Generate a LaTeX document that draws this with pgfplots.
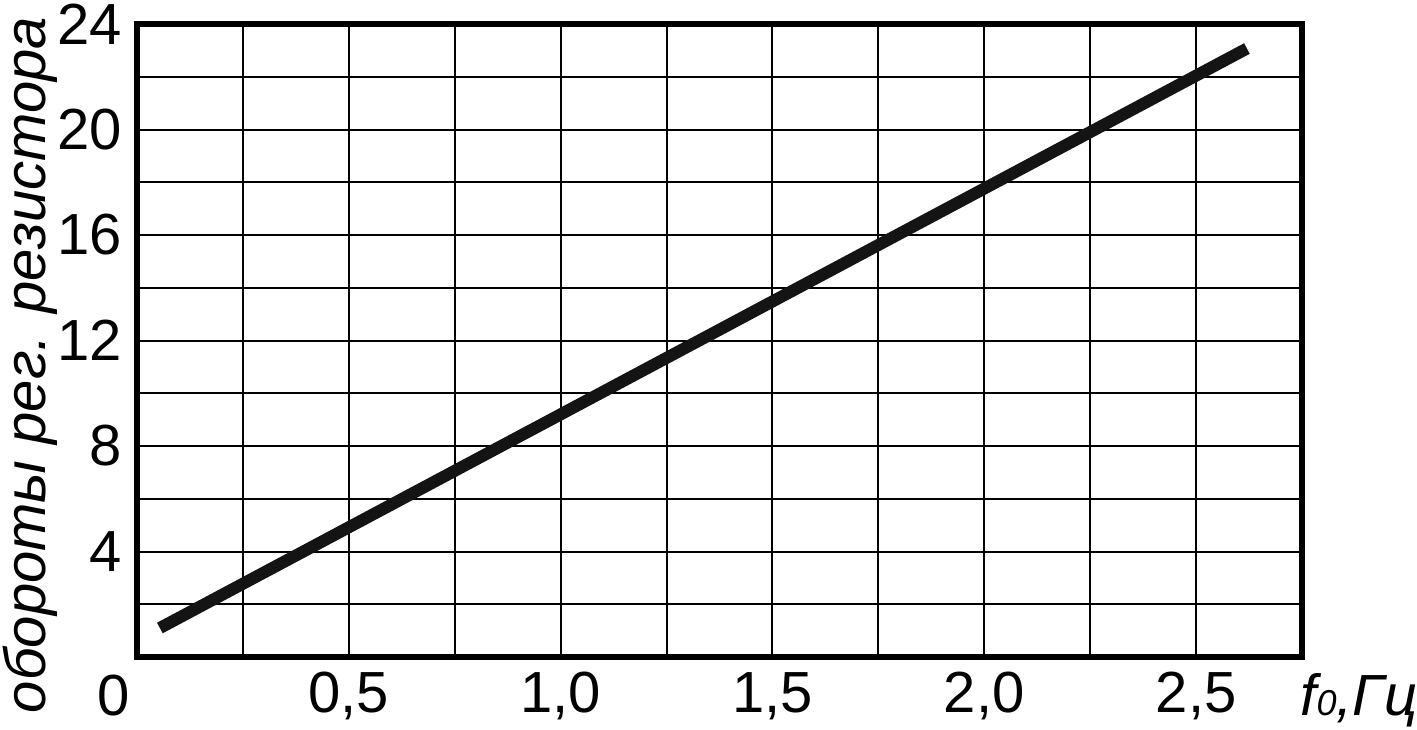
\documentclass[border=0pt]{standalone}
\usepackage{fontspec}
\setmainfont{Liberation Sans}
\usepackage{pgfplots}
\pgfplotsset{compat=1.18}

\begin{document}
\begin{tikzpicture}
\useasboundingbox (-68.5pt,-36pt) rectangle (640pt,328.5pt);
\begin{axis}[
    at={(0,0)}, anchor=south west,
    scale only axis,
    width=582.5pt, height=316.5pt,
    xmin=0, xmax=2.75,
    ymin=0, ymax=24,
    xtick={0.5,1,1.5,2,2.5},
    xticklabels={{0,5},{1,0},{1,5},{2,0},{2,5}},
    minor xtick={0.25,0.75,1.25,1.75,2.25},
    ytick={4,8,12,16,20,24},
    yticklabels={4,8,12,16,20,24},
    minor ytick={2,6,10,14,18,22},
    grid=both,
    major grid style={black, line width=1pt},
    minor grid style={black, line width=1pt},
    tick style={draw=none},
    axis line style={black, line width=2.6pt},
    ticklabel style={font=\fontsize{29}{34}\selectfont, inner sep=0pt},
    xticklabel style={anchor=north, yshift=-7.5pt},
    yticklabel style={anchor=east, xshift=-7.5pt},
    clip=false,
]
\addplot[color=black!92, line width=6pt, line cap=butt]
    coordinates {(0.054,1.1) (2.62,23.07)};
\end{axis}
\node[rotate=90, anchor=base, inner sep=0pt, font=\fontsize{29}{34}\selectfont\itshape]
    at (-46pt,146pt) {обороты рег. резистора};
\node[anchor=base west, font=\fontsize{29}{34}\selectfont\itshape, inner sep=0pt]
    at (581.5pt,-29pt) {f{\fontsize{18}{18}\selectfont 0},Гц};
\node[anchor=base, font=\fontsize{29}{34}\selectfont, inner sep=0pt]
    at (-11.5pt,-29pt) {0};
\end{tikzpicture}
\end{document}
